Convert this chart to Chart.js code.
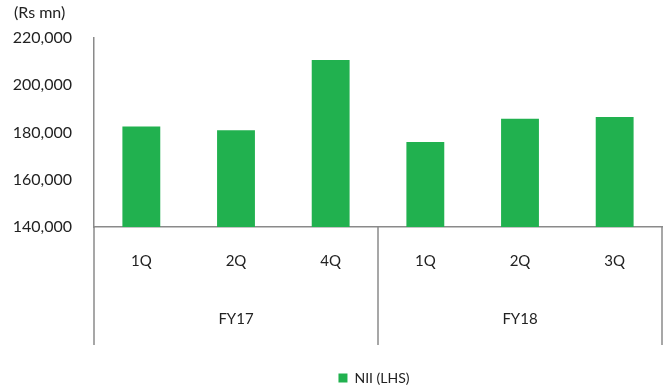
<!DOCTYPE html>
<html>
<head>
<meta charset="utf-8">
<script src="https://cdn.jsdelivr.net/npm/chart.js@4"></script>
<style>
  html, body { margin: 0; padding: 0; background: #fff; }
  #wrap { width: 669px; height: 392px; position: relative; }
</style>
</head>
<body>
<div id="wrap"><canvas id="niiChart"></canvas></div>
<script>
// ==================== DATA ====================
const quarters = ["1Q", "2Q", "4Q", "1Q", "2Q", "3Q"];
const fiscalYears = ["FY17", "FY18"];
const quartersPerYear = [3, 3];
const niiValues = [182500, 180900, 210700, 176000, 185800, 186600];
const yMin = 140000;
const yMax = 220000;
const yStep = 20000;
const unitLabel = "(Rs mn)";
const seriesName = "NII (LHS)";

const GREEN = "#21b14f";
const AXIS = "#8a8a8a";
const TEXT = "#222222";
const FONT = "Lato, 'Open Sans', sans-serif";

// ==================== GROUP AXIS PLUGIN ====================
// draws the year brackets under the quarter labels + the unit caption
const groupAxis = {
  id: "groupAxis",
  afterLayout(chart) {
    // centre the legend under the plot area and nudge it down a bit
    const lg = chart.legend;
    const a = chart.chartArea;
    if (!lg) return;
    lg.left = a.left - 4;
    lg.right = a.right - 4;
    lg.width = lg.right - lg.left;
    lg.top += 5;
    lg.bottom += 5;
  },
  afterDraw(chart) {
    const ctx = chart.ctx;
    const x = chart.scales.x;
    const area = chart.chartArea;
    const bottom = area.bottom + 118;

    ctx.save();
    ctx.strokeStyle = AXIS;
    ctx.lineWidth = 1.5;

    // boundaries between year groups
    let edges = [x.left];
    let idx = 0;
    quartersPerYear.forEach((n) => {
      idx += n;
      if (idx < quarters.length) {
        edges.push((x.getPixelForValue(idx - 1) + x.getPixelForValue(idx)) / 2);
      } else {
        edges.push(x.right);
      }
    });

    edges.forEach((px) => {
      ctx.beginPath();
      ctx.moveTo(px, area.bottom);
      ctx.lineTo(px, bottom);
      ctx.stroke();
    });

    ctx.fillStyle = TEXT;
    ctx.font = "15px " + FONT;
    ctx.textAlign = "center";
    ctx.textBaseline = "middle";
    fiscalYears.forEach((fy, i) => {
      ctx.fillText(fy, (edges[i] + edges[i + 1]) / 2, area.bottom + 92);
    });

    // unit caption
    ctx.textAlign = "left";
    ctx.font = "16px " + FONT;
    ctx.fillText(unitLabel, 14, 13);
    ctx.restore();
  },
};

// ==================== CHART ====================
const ctx = document.getElementById("niiChart").getContext("2d");

new Chart(ctx, {
  type: "bar",
  data: {
    labels: quarters,
    datasets: [
      {
        label: seriesName,
        data: niiValues,
        backgroundColor: GREEN,
        borderWidth: 0,
        barPercentage: 0.8,
        categoryPercentage: 0.5,
      },
    ],
  },
  options: {
    responsive: true,
    maintainAspectRatio: false,
    animation: false,
    layout: {
      padding: { top: 38, right: 7, left: 0, bottom: 2 },
    },
    plugins: {
      legend: {
        position: "bottom",
        labels: {
          boxWidth: 9,
          boxHeight: 9,
          padding: 8,
          color: TEXT,
          font: { family: FONT, size: 14 },
        },
      },
      tooltip: { enabled: false },
    },
    scales: {
      x: {
        grid: { display: false, drawTicks: false },
        border: { color: AXIS, width: 1.5 },
        ticks: {
          color: TEXT,
          padding: 25,
          font: { family: FONT, size: 15 },
        },
        afterFit: (scale) => {
          scale.height = 131;
        },
      },
      y: {
        min: yMin,
        max: yMax,
        grid: { display: false, drawTicks: false },
        border: { color: AXIS, width: 1.5 },
        ticks: {
          stepSize: yStep,
          color: TEXT,
          padding: 22,
          font: { family: FONT, size: 16 },
          callback: (v) => v.toLocaleString("en-US"),
        },
        afterFit: (scale) => {
          scale.width = 94;
        },
      },
    },
  },
  plugins: [groupAxis],
});
</script>
</body>
</html>
